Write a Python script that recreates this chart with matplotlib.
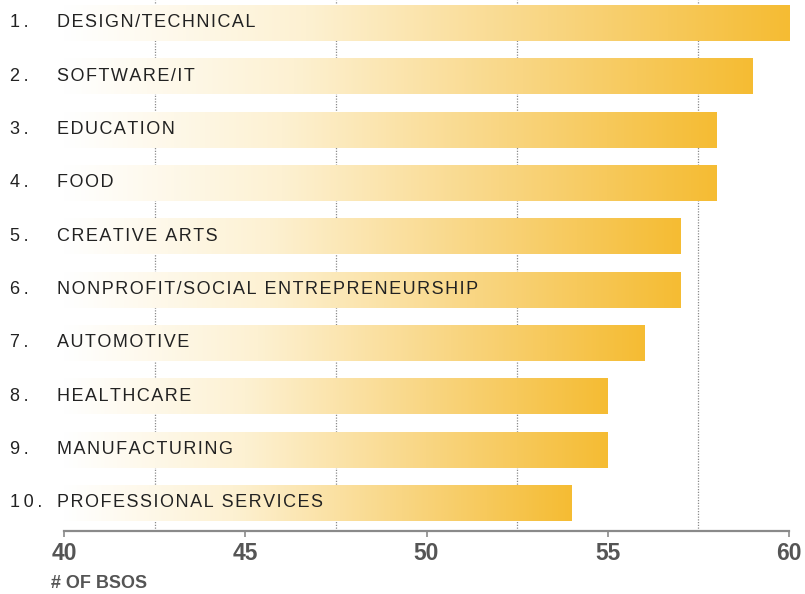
import matplotlib.pyplot as plt
from matplotlib.colors import LinearSegmentedColormap
import numpy as np

categories = ['DESIGN/TECHNICAL', 'SOFTWARE/IT', 'EDUCATION', 'FOOD', 'CREATIVE ARTS',
              'NONPROFIT/SOCIAL ENTREPRENEURSHIP', 'AUTOMOTIVE', 'HEALTHCARE',
              'MANUFACTURING', 'PROFESSIONAL SERVICES']
values = [60, 59, 58, 58, 57, 57, 56, 55, 55, 54]
xticks = [40, 45, 50, 55, 60]
gridpos = [42.5, 47.5, 52.5, 57.5]

cmap = LinearSegmentedColormap.from_list(
    'gold', ['#FFFFFF', '#FDF1D2', '#F9D683', '#F5BC33'])
grad = np.linspace(0, 1, 256).reshape(1, -1)


def spaced(s, sep='\u200a'):
    return sep.join(s)


def main():
    fig = plt.figure(figsize=(8.05, 5.94), dpi=100)
    ax = fig.add_axes([64 / 805, 1 - 531 / 594, 725 / 805, 531 / 594])

    ypos = np.arange(len(values))
    bars = ax.barh(ypos, [v - 40 for v in values], left=40, height=0.68,
                   color='none', edgecolor='none', zorder=2)
    for b, v in zip(bars, values):
        im = ax.imshow(grad, cmap=cmap, aspect='auto', interpolation='bicubic',
                       extent=[40, v, b.get_y() + b.get_height(), b.get_y()],
                       zorder=2)
        im.set_clip_path(b)

    for g in gridpos:
        ax.axvline(g, color='#8a8a8a', lw=0.9, ls=(0, (1, 1.2)), zorder=1)

    for i, c in enumerate(categories):
        ax.text(38.51, i, spaced(f'{i + 1}.', '\u2009'), ha='left', va='center', fontsize=13,
                family='Liberation Sans', color='#222222', clip_on=False, zorder=3)
        ax.text(39.8, i, spaced(c), ha='left', va='center', fontsize=13,
                family='Liberation Sans', color='#222222', clip_on=False, zorder=3)

    ax.set_xlim(40, 60)
    ax.set_ylim(9.525, -0.431)
    ax.set_xticks(xticks)
    ax.set_xticklabels([str(t) for t in xticks], fontsize=16.5, fontweight='bold',
                       family='Liberation Sans', color='#555555')
    ax.set_yticks([])
    for s in ['top', 'right', 'left']:
        ax.spines[s].set_visible(False)
    ax.spines['bottom'].set_color('#8a8a8a')
    ax.spines['bottom'].set_linewidth(1.6)
    ax.tick_params(axis='x', length=4, width=1.2, color='#8a8a8a', pad=4)

    fig.text(51 / 805, 1 - 583 / 594, '# OF BSOS', ha='left', va='center',
             fontsize=13, fontweight='bold',
             family='Liberation Sans', color='#555555')

    fig.savefig('out.png', dpi=100)


main()
